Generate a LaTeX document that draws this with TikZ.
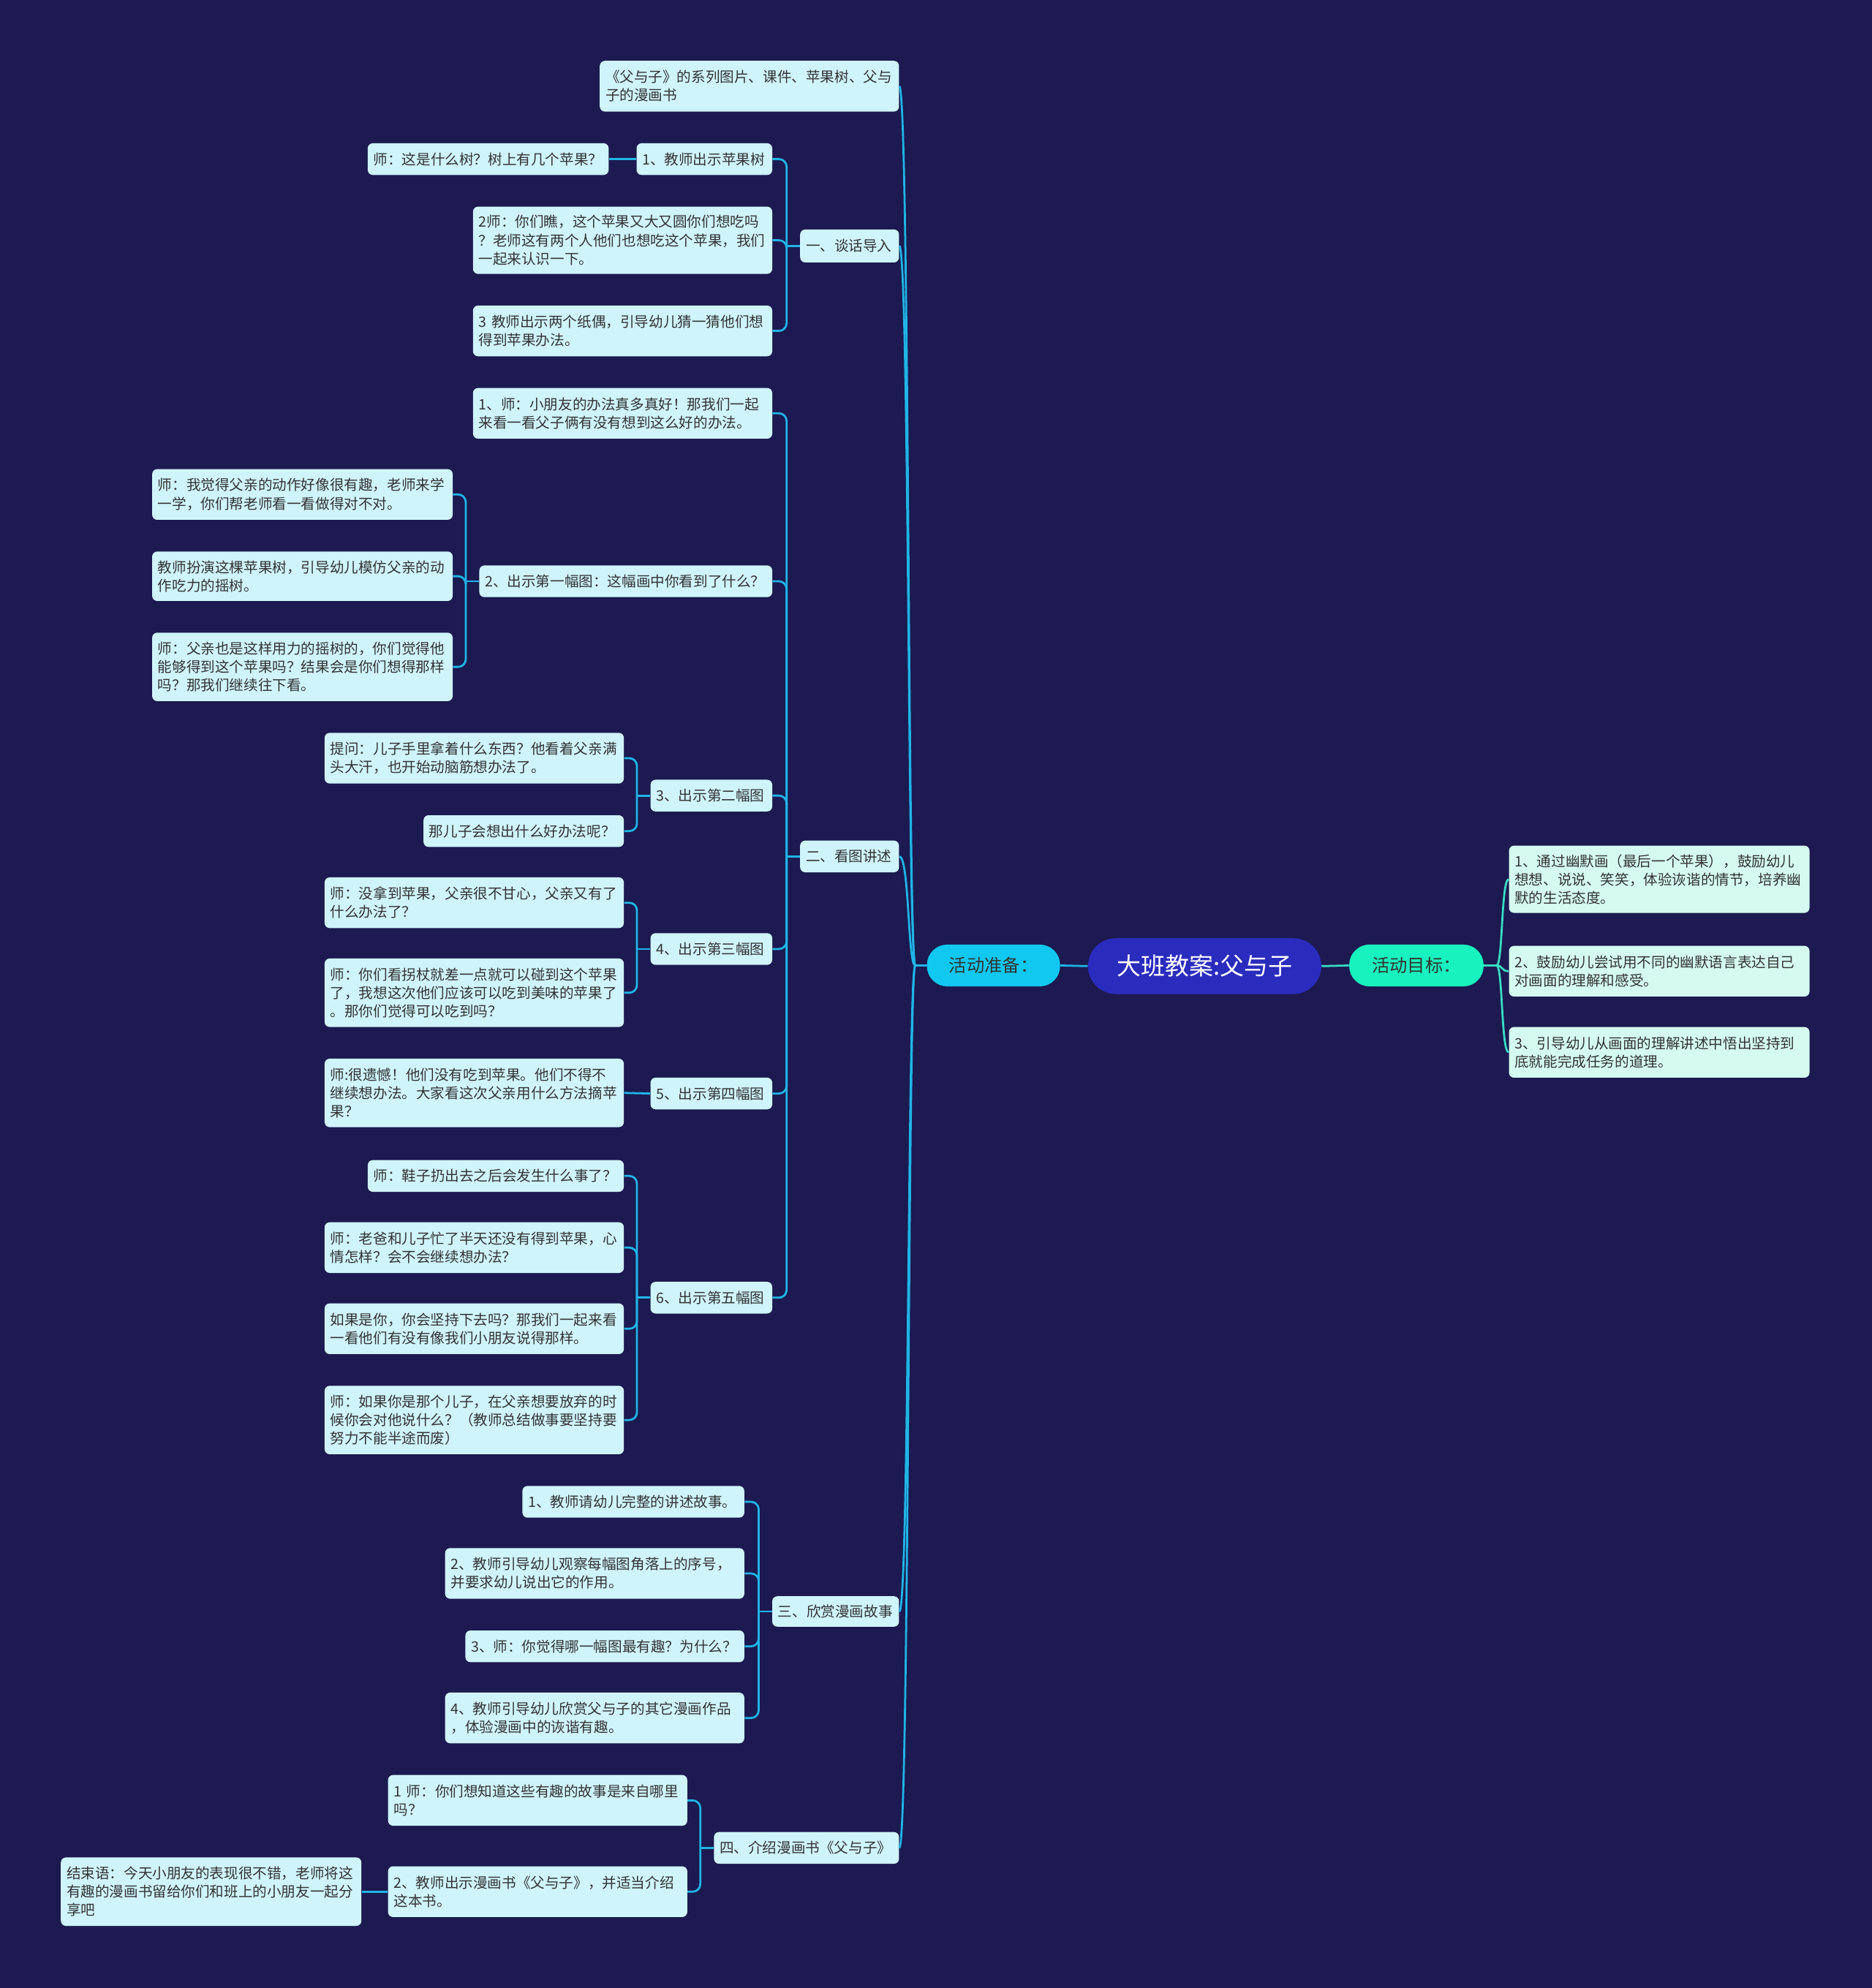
\documentclass[tikz,border=0pt]{standalone}
\usepackage{fontspec}
\setmainfont{Noto Sans CJK SC}
\usetikzlibrary{calc}
\definecolor{bg}{HTML}{1C1A50}
\definecolor{nodefill}{HTML}{CFF4FB}
\definecolor{rfill}{HTML}{D5FBF0}
\definecolor{lineLc}{HTML}{1FB5E6}
\definecolor{lineRc}{HTML}{38DDC4}
\definecolor{rootfill}{HTML}{2A2CBE}
\definecolor{prepfill}{HTML}{10C8F0}
\definecolor{goalfill}{HTML}{18F2BE}
\definecolor{txt}{HTML}{333333}
\tikzset{
  box/.style={fill=nodefill, rounded corners=4pt, inner sep=0pt, align=left, text=txt,
    font=\fontsize{11.3}{14.5}\selectfont},
  rbox/.style={box, fill=rfill},
  conL/.style={draw=lineLc, line width=1.6pt, rounded corners=6pt},
  conR/.style={draw=lineRc, line width=1.6pt},
  pill/.style={rounded corners=16pt, inner sep=0pt, text=txt, font=\fontsize{14}{16}\selectfont},
}
\newcommand\bx[7][box]{%
  \pgfmathsetmacro\bw{#5-#3}\pgfmathsetmacro\bh{#6-#4}\pgfmathsetmacro\tw{#5-#3-9}%
  \node[#1, minimum width=\bw pt, minimum height=\bh pt, text width=\tw pt] (#2) at ({(#3+#5)/2},{(#4+#6)/2}) {#7};}
\newcommand\elbow[2]{\draw[conL] (#2.east) -| ([xshift=-10.5pt]#1.west);
  \draw[conL, rounded corners=0pt] ([xshift=-10.5pt]#1.west) -- (#1.west);}
\newcommand\fanL[1]{\draw[conL, rounded corners=0pt] (prep.west) -- ++(-9,0) .. controls +(-6,0) and +(8,0) .. (#1.east);}
\newcommand\fanR[1]{\draw[conR] (goal.east) -- ++(10,0) .. controls +(5,0) and +(-6,0) .. (#1.west);}
\begin{document}
\begin{tikzpicture}[x=1pt,y=-1pt]
\fill[bg] (0,0) rectangle (1476,1568);
\useasboundingbox (0,0) rectangle (1476,1568);

% central
\node[fill=rootfill, rounded corners=22pt, minimum width=184pt, minimum height=44pt, inner sep=0pt,
  text=white, font=\fontsize{19}{22}\selectfont] (root) at (950,762) {大班教案:父与子};
\node[pill, fill=prepfill, minimum width=105pt, minimum height=33pt] (prep) at (783.5,761.5) {活动准备：};
\node[pill, fill=goalfill, minimum width=106pt, minimum height=33pt] (goal) at (1117,761.5) {活动目标：};

% right
\bx[rbox]{R1}{1190}{667}{1427}{720}{1、通过幽默画（最后一个苹果），鼓励幼儿\\想想、说说、笑笑，体验诙谐的情节，培养幽\\默的生活态度。}
\bx[rbox]{R2}{1190}{746}{1427}{786}{2、鼓励幼儿尝试用不同的幽默语言表达自己\\对画面的理解和感受。}
\bx[rbox]{R3}{1190}{810}{1427}{850}{3、引导幼儿从画面的理解讲述中悟出坚持到\\底就能完成任务的道理。}

% left level 1
\bx{L0}{473}{48}{709}{88}{《父与子》的系列图片、课件、苹果树、父与\\子的漫画书}
\bx{A}{631}{181}{709}{207}{一、谈话导入}
\bx{B}{631}{663}{709}{688}{二、看图讲述}
\bx{C}{609}{1259}{709}{1283}{三、欣赏漫画故事}
\bx{D}{563}{1445}{709}{1470}{四、介绍漫画书《父与子》}

% A
\bx{A1}{502}{113}{609}{138}{1、教师出示苹果树}
\bx{A1a}{290}{113}{480}{138}{师：这是什么树？树上有几个苹果？}
\bx{A2}{373}{163}{609}{216}{2师：你们瞧，这个苹果又大又圆你们想吃吗\\？老师这有两个人他们也想吃这个苹果，我们\\一起来认识一下。}
\bx{A3}{373}{241}{609}{281}{3 教师出示两个纸偶，引导幼儿猜一猜他们想\\得到苹果办法。}

% B
\bx{B1}{373}{306}{609}{346}{1、师：小朋友的办法真多真好！那我们一起\\来看一看父子俩有没有想到这么好的办法。}
\bx{B2}{378}{446}{609}{471}{2、出示第一幅图：这幅画中你看到了什么？}
\bx{B2a}{120}{370}{357}{410}{师：我觉得父亲的动作好像很有趣，老师来学\\一学，你们帮老师看一看做得对不对。}
\bx{B2b}{120}{435}{357}{474}{教师扮演这棵苹果树，引导幼儿模仿父亲的动\\作吃力的摇树。}
\bx{B2c}{120}{499}{357}{553}{师：父亲也是这样用力的摇树的，你们觉得他\\能够得到这个苹果吗？结果会是你们想得那样\\吗？那我们继续往下看。}
\bx{B3}{513}{615}{609}{640}{3、出示第二幅图}
\bx{B3a}{256}{578}{492}{618}{提问：儿子手里拿着什么东西？他看着父亲满\\头大汗，也开始动脑筋想办法了。}
\bx{B3b}{334}{643}{492}{668}{那儿子会想出什么好办法呢？}
\bx{B4}{513}{736}{609}{761}{4、出示第三幅图}
\bx{B4a}{256}{692}{492}{732}{师：没拿到苹果，父亲很不甘心，父亲又有了\\什么办法了？}
\bx{B4b}{256}{756}{492}{810}{师：你们看拐杖就差一点就可以碰到这个苹果\\了，我想这次他们应该可以吃到美味的苹果了\\。那你们觉得可以吃到吗？}
\bx{B5}{513}{850}{609}{875}{5、出示第四幅图}
\bx{B5a}{256}{835}{492}{889}{师:很遗憾！他们没有吃到苹果。他们不得不\\继续想办法。大家看这次父亲用什么方法摘苹\\果？}
\bx{B6}{513}{1011}{609}{1036}{6、出示第五幅图}
\bx{B6a}{290}{915}{492}{940}{师：鞋子扔出去之后会发生什么事了？}
\bx{B6b}{256}{964}{492}{1004}{师：老爸和儿子忙了半天还没有得到苹果，心\\情怎样？会不会继续想办法？}
\bx{B6c}{256}{1028}{492}{1068}{如果是你，你会坚持下去吗？那我们一起来看\\一看他们有没有像我们小朋友说得那样。}
\bx{B6d}{256}{1093}{492}{1147}{师：如果你是那个儿子，在父亲想要放弃的时\\候你会对他说什么？（教师总结做事要坚持要\\努力不能半途而废）}

% C
\bx{C1}{412}{1172}{587}{1197}{1、教师请幼儿完整的讲述故事。}
\bx{C2}{351}{1221}{587}{1261}{2、教师引导幼儿观察每幅图角落上的序号，\\并要求幼儿说出它的作用。}
\bx{C3}{367}{1286}{587}{1311}{3、师：你觉得哪一幅图最有趣？为什么？}
\bx{C4}{351}{1335}{587}{1375}{4、教师引导幼儿欣赏父与子的其它漫画作品\\，体验漫画中的诙谐有趣。}

% D
\bx{D1}{306}{1400}{542}{1440}{1 师：你们想知道这些有趣的故事是来自哪里\\吗？}
\bx{D2}{306}{1472}{542}{1512}{2、教师出示漫画书《父与子》，并适当介绍\\这本书。}
\bx{D2a}{48}{1465}{285}{1519}{结束语：今天小朋友的表现很不错，老师将这\\有趣的漫画书留给你们和班上的小朋友一起分\\享吧}

% connectors
\draw[conL] (root.west) -- (prep.east);
\draw[conR] (root.east) -- (goal.west);
\fanR{R1}\fanR{R2}\fanR{R3}
\fanL{L0}\fanL{A}\fanL{B}\fanL{C}\fanL{D}
\elbow{A}{A1}\elbow{A}{A2}\elbow{A}{A3}
\draw[conL] (A1.west) -- (A1a.east);
\elbow{B}{B1}\elbow{B}{B2}\elbow{B}{B3}\elbow{B}{B4}\elbow{B}{B5}\elbow{B}{B6}
\elbow{B2}{B2a}\elbow{B2}{B2b}\elbow{B2}{B2c}
\elbow{B3}{B3a}\elbow{B3}{B3b}
\elbow{B4}{B4a}\elbow{B4}{B4b}
\draw[conL] (B5.west) -- (B5a.east);
\elbow{B6}{B6a}\elbow{B6}{B6b}\elbow{B6}{B6c}\elbow{B6}{B6d}
\elbow{C}{C1}\elbow{C}{C2}\elbow{C}{C3}\elbow{C}{C4}
\elbow{D}{D1}\elbow{D}{D2}
\draw[conL] (D2.west) -- (D2a.east);
\end{tikzpicture}
\end{document}
